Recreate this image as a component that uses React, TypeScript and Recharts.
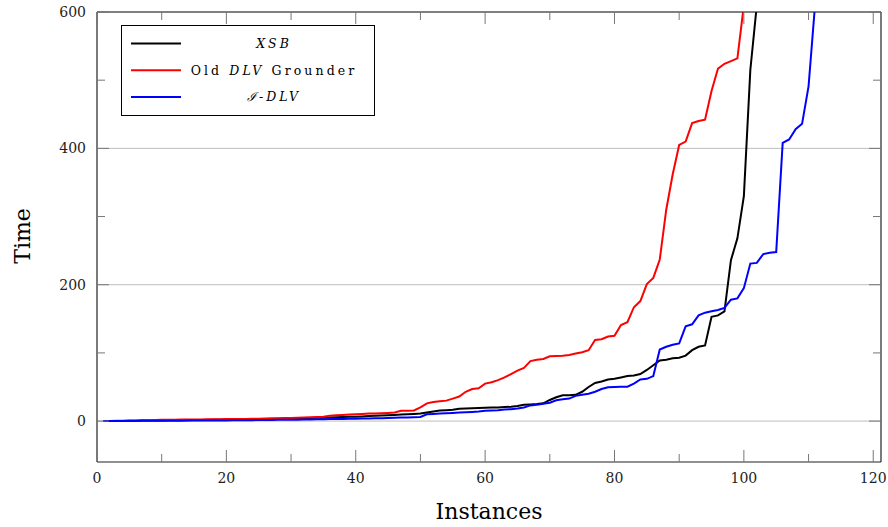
import React from 'react';
import { LineChart, Line, XAxis, YAxis, CartesianGrid, Label } from 'recharts';

// Instance numbers 1..112
const instances: number[] = Array.from({ length: 112 }, (_, i) => i + 1);

const xsb: number[] = [
  0, 0.1, 0.2, 0.3, 0.5, 0.6, 0.7, 0.8, 0.9, 1,
  1.1, 1.2, 1.3, 1.4, 1.5, 1.6, 1.7, 1.8, 1.9, 2,
  2.2, 2.3, 2.5, 2.6, 2.8, 3, 3.1, 3.3, 3.4, 3.6,
  3.9, 4.2, 4.5, 4.8, 5, 5.3, 5.6, 5.9, 6.2, 6.5,
  6.9, 7.3, 7.7, 8.1, 8.5, 9, 9.5, 10, 10.5, 11,
  12.5, 14, 15.5, 16, 16.5, 18, 18.5, 19, 19.3, 19.6,
  19.8, 20, 20.5, 21, 22, 24, 24.5, 25, 26, 31,
  35, 38, 38, 38.5, 43, 50, 56, 58, 61, 62,
  64, 66, 67, 69, 75, 82, 89, 90, 92, 93,
  96, 104, 109, 111, 153, 155, 161, 236, 268, 330,
  515, 610, 900,
];

const oldDlv: number[] = [
  0, 0.2, 0.4, 0.6, 0.8, 1, 1.2, 1.4, 1.6, 1.8,
  2, 2.1, 2.2, 2.3, 2.4, 2.5, 2.6, 2.7, 2.8, 2.9,
  3, 3.1, 3.2, 3.4, 3.6, 3.8, 4, 4.2, 4.4, 4.6,
  4.9, 5.2, 5.6, 6, 6.5, 8, 8.5, 9, 9.5, 10,
  10.5, 11, 11.3, 11.6, 12, 12.5, 15, 15.2, 15.5, 20,
  26, 28, 29, 30, 33, 36, 43, 47, 48, 55,
  57, 60, 64, 69, 74, 78, 88, 90, 91, 95,
  95.5, 96, 97, 99, 101, 104, 119, 120, 124, 125,
  141, 145, 167, 176, 201, 210, 237, 310, 362, 405,
  410, 437, 440, 442, 484, 517, 524, 528, 532, 610,
  900,
];

const iDlv: number[] = [
  0, 0.1, 0.15, 0.2, 0.25, 0.3, 0.35, 0.4, 0.45, 0.5,
  0.55, 0.6, 0.65, 0.7, 0.75, 0.8, 0.85, 0.9, 0.95, 1,
  1.1, 1.2, 1.3, 1.4, 1.5, 1.6, 1.7, 1.8, 1.9, 2,
  2.1, 2.3, 2.4, 2.6, 2.7, 2.9, 3, 3.2, 3.3, 3.5,
  3.7, 3.9, 4.1, 4.3, 4.5, 4.8, 5.1, 5.4, 5.7, 6,
  10, 10.5, 11, 11.5, 12, 12.5, 13, 13.5, 14, 15,
  15.5, 16, 17, 17.5, 18.5, 20, 23, 24, 25.5, 27,
  30.5, 32, 33, 37, 38.5, 40, 43, 47, 49.5, 50,
  50.3, 50.5, 55, 61, 62, 66, 105, 109, 112, 114,
  139, 142, 155, 159, 161, 163, 166, 178, 180, 195,
  231, 232, 245, 247, 248, 408, 413, 428, 436, 491,
  610, 900,
];

const xMajorTicks = [0, 20, 40, 60, 80, 100, 120];
const xAllTicks = [0, 10, 20, 30, 40, 50, 60, 70, 80, 90, 100, 110, 120];
const yMajorTicks = [0, 200, 400, 600];
const yAllTicks = [0, 100, 200, 300, 400, 500, 600];

const seriesDefs = [
  { key: 'xsb', name: 'XSB', color: '#000000' },
  { key: 'old', name: 'Old DLV Grounder', color: '#ff0000' },
  { key: 'idlv', name: 'I-DLV', color: '#0000ff' },
];

const data = instances.map((x, i) => ({
  x,
  xsb: i < xsb.length ? xsb[i] : undefined,
  old: i < oldDlv.length ? oldDlv[i] : undefined,
  idlv: i < iDlv.length ? iDlv[i] : undefined,
}));

const FONT = 'DejaVu Serif';
const TICK_COLOR = '#777';
const MAJOR_LEN = 12;
const MINOR_LEN = 8;

const BottomTick = (props: any) => {
  const { x, y, payload } = props;
  const major = xMajorTicks.includes(payload.value);
  return (
    <g>
      <line x1={x} x2={x} y1={y} y2={y - (major ? MAJOR_LEN : MINOR_LEN)} stroke={TICK_COLOR} strokeWidth={1} />
      {major && (
        <text x={x} y={y + 21} textAnchor="middle" fontFamily={FONT} fontSize={14} fill="#222">
          {payload.value}
        </text>
      )}
    </g>
  );
};

const TopTick = (props: any) => {
  const { x, y, payload } = props;
  const major = xMajorTicks.includes(payload.value);
  return (
    <line x1={x} x2={x} y1={y} y2={y + (major ? MAJOR_LEN : MINOR_LEN)} stroke={TICK_COLOR} strokeWidth={1} />
  );
};

const LeftTick = (props: any) => {
  const { x, y, payload } = props;
  const major = yMajorTicks.includes(payload.value);
  return (
    <g>
      <line x1={x} x2={x + (major ? MAJOR_LEN : MINOR_LEN)} y1={y} y2={y} stroke={TICK_COLOR} strokeWidth={1} />
      {major && (
        <text x={x - 11} y={y} dy="0.36em" textAnchor="end" fontFamily={FONT} fontSize={14} fill="#222">
          {payload.value}
        </text>
      )}
    </g>
  );
};

const RightTick = (props: any) => {
  const { x, y, payload } = props;
  const major = yMajorTicks.includes(payload.value);
  return (
    <line x1={x} x2={x - (major ? MAJOR_LEN : MINOR_LEN)} y1={y} y2={y} stroke={TICK_COLOR} strokeWidth={1} />
  );
};

const renderLegendLabel = (name: string) => {
  if (name === 'XSB') {
    return <tspan fontStyle="italic">XSB</tspan>;
  }
  if (name === 'Old DLV Grounder') {
    return (
      <>
        <tspan>Old </tspan>
        <tspan fontStyle="italic">DLV</tspan>
        <tspan> Grounder</tspan>
      </>
    );
  }
  return (
    <>
      <tspan fontStyle="italic">ℐ</tspan>
      <tspan>-</tspan>
      <tspan fontStyle="italic">DLV</tspan>
    </>
  );
};

const LegendBox = () => (
  <svg width={254} height={91} style={{ display: 'block' }}>
    <rect x={0.5} y={0.5} width={253} height={90} fill="#fff" stroke="#000" strokeWidth={1} />
    {seriesDefs.map((s, i) => {
      const cy = 18.5 + i * 26.7;
      return (
        <g key={s.key}>
          <line x1={10} x2={60} y1={cy} y2={cy} stroke={s.color} strokeWidth={2} />
          <text
            x={153}
            y={cy}
            dy="0.35em"
            textAnchor="middle"
            fontFamily={FONT}
            fontSize={12.5}
            letterSpacing={s.key === 'old' ? 3.1 : 3}
            fill="#000"
          >
            {renderLegendLabel(s.name)}
          </text>
        </g>
      );
    })}
  </svg>
);

export default function App() {
  return (
    <div style={{ position: 'absolute', left: 0, top: 0, width: 888, height: 527, background: '#fff' }}>
      <LineChart width={888} height={527} data={data} margin={{ top: 0, right: 0, bottom: 0, left: 0 }}>
        <CartesianGrid
          horizontal={true}
          vertical={false}
          xAxisId="bottom"
          yAxisId="left"
          horizontalValues={yMajorTicks}
          stroke="#bdbdbd"
          strokeWidth={1}
        />
        <XAxis
          xAxisId="bottom"
          orientation="bottom"
          type="number"
          dataKey="x"
          domain={[0, 121.2]}
          allowDataOverflow
          ticks={xAllTicks}
          interval={0}
          height={65}
          tickSize={0}
          tickMargin={0}
          tickLine={false}
          tick={<BottomTick />}
          axisLine={{ stroke: '#222', strokeWidth: 1.2 }}
        >
          <Label
            content={(p: any) => {
              const vb = p.viewBox;
              return (
                <text x={vb.x + vb.width / 2} y={vb.y + 57} textAnchor="middle" fontFamily={FONT} fontSize={22} fill="#000">
                  Instances
                </text>
              );
            }}
          />
        </XAxis>
        <XAxis
          xAxisId="top"
          orientation="top"
          type="number"
          dataKey="x"
          domain={[0, 121.2]}
          allowDataOverflow
          ticks={xAllTicks}
          interval={0}
          height={12}
          tickSize={0}
          tickMargin={0}
          tickLine={false}
          tick={<TopTick />}
          axisLine={{ stroke: '#222', strokeWidth: 1.2 }}
        />
        <YAxis
          yAxisId="left"
          orientation="left"
          type="number"
          domain={[-60, 600]}
          allowDataOverflow
          ticks={yAllTicks}
          interval={0}
          width={97}
          tickSize={0}
          tickMargin={0}
          tickLine={false}
          tick={<LeftTick />}
          axisLine={{ stroke: '#222', strokeWidth: 1.2 }}
        >
          <Label
            content={(p: any) => {
              const vb = p.viewBox;
              const cx = 30;
              const cy = vb.y + vb.height / 2 - 1;
              return (
                <text
                  x={cx}
                  y={cy}
                  textAnchor="middle"
                  fontFamily={FONT}
                  fontSize={22}
                  fill="#000"
                  transform={`rotate(-90 ${cx} ${cy})`}
                >
                  Time
                </text>
              );
            }}
          />
        </YAxis>
        <YAxis
          yAxisId="right"
          orientation="right"
          type="number"
          domain={[-60, 600]}
          allowDataOverflow
          ticks={yAllTicks}
          interval={0}
          width={7}
          tickSize={0}
          tickMargin={0}
          tickLine={false}
          tick={<RightTick />}
          axisLine={{ stroke: '#222', strokeWidth: 1.2 }}
        />
        {seriesDefs.map((s) => (
          <Line
            key={s.key}
            xAxisId="bottom"
            yAxisId="left"
            type="linear"
            dataKey={s.key}
            name={s.name}
            stroke={s.color}
            strokeWidth={2}
            dot={false}
            activeDot={false}
            isAnimationActive={false}
          />
        ))}
      </LineChart>
      <div style={{ position: 'absolute', left: 121, top: 25 }}>
        <LegendBox />
      </div>
    </div>
  );
}
